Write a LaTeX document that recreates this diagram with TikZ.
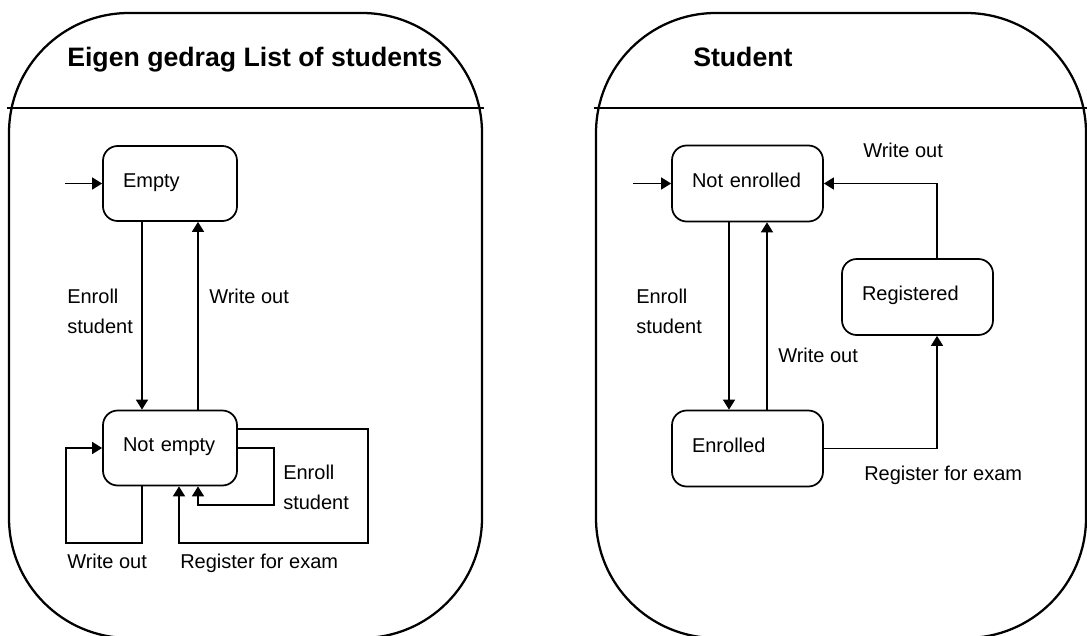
\documentclass[tikz,border=0pt]{standalone}
\usepackage{fontspec}
\setmainfont{Liberation Sans}
\usetikzlibrary{arrows.meta}
\newdimen\unitpx \unitpx=0.75pt
\newcommand\lblfont{\fontsize{15}{22.5}\selectfont}
\newcommand\headfont{\bfseries\fontsize{20}{24}\selectfont}
\begin{document}
\begin{tikzpicture}[x=0.75pt,y=-0.75pt,
  frame/.style={draw,line width=1.7pt,rounded corners=90pt,inner sep=0pt,
    minimum height=625\unitpx},
  state/.style={draw,line width=1.3pt,rounded corners=11pt,inner ysep=0pt,
    inner xsep=20\unitpx,align=left,font=\lblfont,
    text height=10.5pt,text depth=5pt},
  narrow/.style={text width=94\unitpx,minimum height=75\unitpx},
  wide/.style={text width=111\unitpx,minimum height=76\unitpx},
  conn/.style={line width=1.2pt,-{Triangle[length=7.5pt,width=9pt]}},
  lbl/.style={inner sep=0pt,font=\lblfont,align=left,anchor=base west},
  head/.style={inner sep=0pt,font=\headfont,anchor=base west}]
\useasboundingbox (0,0) rectangle (1087,635);
\clip (0,0) rectangle (1087,635);

% the two swimlane frames with their title compartments
\node[frame,minimum width=473\unitpx] (fl) at (245.5,325.5) {};
\node[frame,minimum width=490\unitpx] (fr) at (841,325.5) {};
\coordinate (dv) at (0,108);
\draw[line width=1.7pt] ([xshift=-1\unitpx]fl.west |- dv) -- ([xshift=1\unitpx]fl.east |- dv);
\draw[line width=1.7pt] ([xshift=-1\unitpx]fr.west |- dv) -- ([xshift=1\unitpx]fr.east |- dv);
\node[head] (tl) at (67,67) {Eigen gedrag List of students};
\node[head] (tr) at (693,67) {Student};

% ---- list of students ----
\node[state,narrow] (e)  at (170,183.5) {Empty};
\node[state,narrow] (ne) at (170,448)   {Not empty};

\coordinate (s1) at (65,183.5);
\coordinate (c1) at (142,0);
\coordinate (c2) at (198,0);
\coordinate (c3) at (179,0);
\coordinate (lb) at (66,543);
\coordinate (lr) at (274,505);
\coordinate (rb) at (368,543);
\coordinate (rt) at (0,429);

\draw[conn] (s1) -- (e.west);
\draw[conn] (e.south -| c1) -- (ne.north -| c1);
\draw[conn] (ne.north -| c2) -- (e.south -| c2);
\draw[conn] (ne.south -| c1) |- (lb) |- (ne.west);
\draw[conn] (ne.east) -| (lr) -| (ne.south -| c2);
\draw[conn] (ne.east |- rt) -| (rb) -| (ne.south -| c3);

% multi-line labels are placed by the baseline of their last line
\node[lbl] (l1) at (67,333)  {Enroll\\student};
\node[lbl] (l2) at (209,303) {Write out};
\node[lbl] (l3) at (67,568)  {Write out};
\node[lbl] (l4) at (180,568) {Register for exam};
\node[lbl] (l5) at (283,509) {Enroll\\student};

% ---- student ----
\node[state,wide] (ni) at (747.5,183.5) {Not enrolled};
\node[state,wide] (en) at (747.5,448.5) {Enrolled};
\node[state,wide] (rg) at (917.5,297)   {Registered};

\coordinate (s2) at (633,183.5);
\coordinate (c4) at (729,0);
\coordinate (c5) at (767,0);
\coordinate (c6) at (937,0);

\draw[conn] (s2) -- (ni.west);
\draw[conn] (ni.south -| c4) -- (en.north -| c4);
\draw[conn] (en.north -| c5) -- (ni.south -| c5);
\draw[conn] (en.east) -| (rg.south -| c6);
\draw[conn] (rg.north -| c6) |- (ni.east);

\node[lbl] (r1) at (636,333) {Enroll\\student};
\node[lbl] (r2) at (778,362) {Write out};
\node[lbl] (r3) at (864,480) {Register for exam};
\node[lbl] (r4) at (863,157) {Write out};
\end{tikzpicture}
\end{document}
